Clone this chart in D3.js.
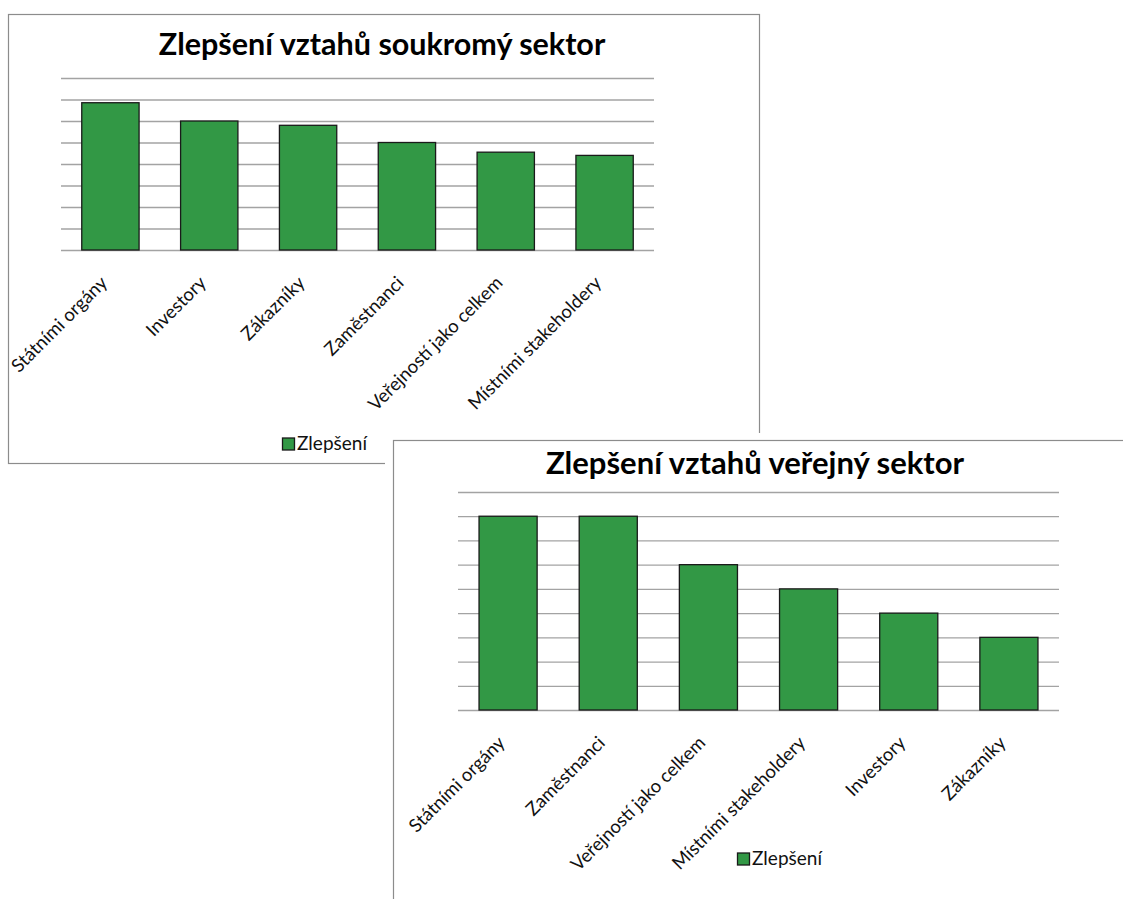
<!DOCTYPE html>
<html>
<head>
<meta charset="utf-8">
<script src="https://cdn.jsdelivr.net/npm/d3@7"></script>
<style>
  body { margin: 0; background: #fff; }
  svg { display: block; font-family: Lato, "Open Sans", sans-serif; }
  .grid line { stroke: #a3a3a3; stroke-width: 1.3; }
  .grid .domain { display: none; }
  .bar { fill: #329845; stroke: #1a1a1a; stroke-width: 1.3; }
</style>
</head>
<body>
<script>
// soukromý sektor
let privateCategories = ["Státními orgány", "Investory", "Zákazníky", "Zaměstnanci", "Veřejností jako celkem", "Místními stakeholdery"];
let privateValues = [6.85, 6.0, 5.8, 5.0, 4.55, 4.4];
let privateMax = 8;

// veřejný sektor
let publicCategories = ["Státními orgány", "Zaměstnanci", "Veřejností jako celkem", "Místními stakeholdery", "Investory", "Zákazníky"];
let publicValues = [8, 8, 6, 5, 4, 3];
let publicMax = 9;

let seriesName = "Zlepšení";

let svg = d3.select("body").append("svg")
    .attr("width", 1123)
    .attr("height", 899);

function drawChart(opts) {
    let g = svg.append("g");

    // white card behind the frame (the second chart covers the first)
    g.append("rect")
        .attr("x", opts.frame.x - 8).attr("y", opts.frame.y - 7)
        .attr("width", opts.frame.w + 16).attr("height", opts.frame.h + 14)
        .attr("fill", "#fff");
    g.append("rect")
        .attr("x", opts.frame.x + 0.5).attr("y", opts.frame.y + 0.5)
        .attr("width", opts.frame.w).attr("height", opts.frame.h)
        .attr("fill", "#fff")
        .attr("stroke", "#8c8c8c")
        .attr("stroke-width", 1.2);

    g.append("text")
        .attr("x", opts.titleX).attr("y", opts.titleY)
        .attr("text-anchor", "middle")
        .style("font-size", opts.titleSize + "px")
        .style("font-weight", "bold")
        .attr("fill", "#000")
        .text(opts.title);

    let x = d3.scaleBand()
        .domain(opts.categories)
        .range([opts.left, opts.right])
        .paddingInner(0.42)
        .paddingOuter(0.21);

    let y = d3.scaleLinear()
        .domain([0, opts.max])
        .range([opts.bottom, opts.top]);

    g.append("g")
        .attr("class", "grid")
        .attr("transform", "translate(" + opts.left + ",0)")
        .call(d3.axisLeft(y)
            .tickValues(d3.range(0, opts.max + 1))
            .tickSize(-(opts.right - opts.left))
            .tickFormat(""));

    g.selectAll(".bar")
        .data(opts.values)
        .enter().append("rect")
        .attr("class", "bar")
        .attr("x", function(d, i) { return x(opts.categories[i]); })
        .attr("y", function(d) { return y(d); })
        .attr("width", x.bandwidth())
        .attr("height", function(d) { return y(0) - y(d); });

    g.selectAll(".label")
        .data(opts.categories)
        .enter().append("text")
        .attr("class", "label")
        .attr("text-anchor", "end")
        .attr("transform", function(d) {
            return "translate(" + (x(d) + x.bandwidth() / 2 - 2) + "," + (opts.bottom + 34) + ") rotate(-45)";
        })
        .style("font-size", "18.5px")
        .attr("fill", "#111")
        .text(function(d) { return d; });

    let legend = g.append("g")
        .attr("transform", "translate(" + opts.legendX + "," + opts.legendY + ")");
    legend.append("rect")
        .attr("x", 0.5).attr("y", -12)
        .attr("width", 12).attr("height", 12)
        .attr("class", "bar");
    legend.append("text")
        .attr("x", 15).attr("y", 0)
        .style("font-size", "19px")
        .attr("fill", "#111")
        .text(seriesName);
}

drawChart({
    title: "Zlepšení vztahů soukromý sektor",
    categories: privateCategories,
    values: privateValues,
    max: privateMax,
    frame: {x: 8, y: 14, w: 751, h: 449},
    titleX: 382, titleY: 55, titleSize: 30.5,
    left: 61, right: 654, top: 78, bottom: 250,
    legendX: 282, legendY: 450
});

drawChart({
    title: "Zlepšení vztahů veřejný sektor",
    categories: publicCategories,
    values: publicValues,
    max: publicMax,
    frame: {x: 393, y: 440, w: 800, h: 520},
    titleX: 755, titleY: 474, titleSize: 31,
    left: 458, right: 1059, top: 492, bottom: 710,
    legendX: 737, legendY: 865
});
</script>
</body>
</html>
